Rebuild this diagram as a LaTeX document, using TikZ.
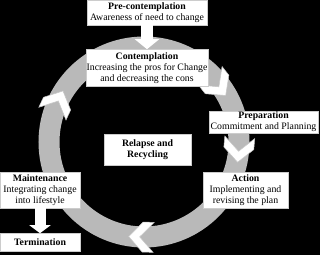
\documentclass[tikz,border=0pt]{standalone}
\usepackage{fontspec}
\setmainfont{Liberation Serif}
\usetikzlibrary{arrows.meta,positioning}

\begin{document}
\begin{tikzpicture}[
    x=1pt, y=1pt,
    box/.style={rectangle, draw=gray!40, fill=white, align=center, inner sep=0.5pt,
        font=\fontsize{9.8}{10.8}\selectfont},
    fat/.style={draw=white, line width=12pt, -{Triangle[width=24pt, length=10pt]}},
    chev/.pic={
        \filldraw[fill=white, draw=gray!45, line width=0.5pt]
            (-13,15) -- (-2,15) -- (12,0) -- (-2,-15) -- (-13,-15) -- (1,0) -- cycle;
    }
]
\fill[black] (0,0) rectangle (320,255);
\useasboundingbox (0,0) rectangle (320,255);

% Cycle ring
\coordinate (ring) at (144,113);
\draw[gray!55, line width=21pt] (ring) circle (95);

% Chevrons along the ring (clockwise)
\pic[rotate=65]   at ([shift={(155:95)}]ring) {chev};
\pic[rotate=-52]  at ([shift={(37:93)}]ring)  {chev};
\pic[rotate=-95]  at ([shift={(-5:95)}]ring)  {chev};
\pic[rotate=-182] at ([shift={(-92:95)}]ring) {chev};

% Stages
\node[box, minimum width=120, minimum height=25] (pre) at (147,242.5)
    {\textbf{Pre-contemplation}\\Awareness of need to change};
\node[box, minimum width=121, minimum height=37, below=24 of pre] (cont)
    {\textbf{Contemplation}\\Increasing the pros for Change\\and decreasing the cons};
\node[box, minimum width=109, minimum height=22] (prep) at (263.5,133)
    {\textbf{Preparation}\\Commitment and Planning};
\node[box, minimum width=85, minimum height=36] (action) at (245.5,65)
    {\textbf{Action}\\Implementing and\\revising the plan};
\node[box, minimum width=87, minimum height=31] (relapse) at (147.5,105.5)
    {\textbf{Relapse and}\\\textbf{Recycling}};
\node[box, minimum width=80, minimum height=36] (maint) at (40,65)
    {\textbf{Maintenance}\\Integrating change\\into lifestyle};
\node[box, minimum width=80, minimum height=18, below=25 of maint] (term)
    {\textbf{Termination}};

\draw[fat] (pre.south) -- (cont.north);
\draw[fat, line width=11pt, -{Triangle[width=21pt, length=8pt]}] (maint.south) -- (term.north);
\end{tikzpicture}
\end{document}
